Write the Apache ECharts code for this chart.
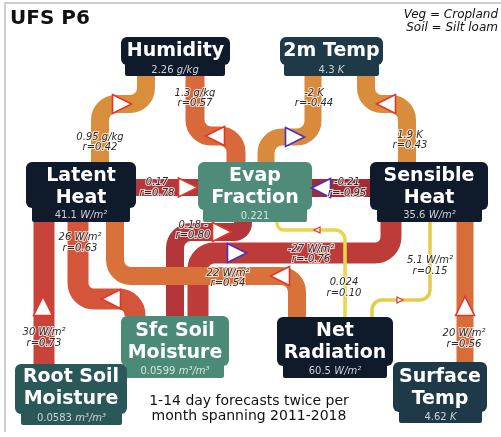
<!DOCTYPE html>
<html>
<head>
<meta charset="utf-8">
<script src="https://cdn.jsdelivr.net/npm/echarts@6/dist/echarts.min.js"></script>
<style>
  html, body { margin: 0; padding: 0; background: #fff; }
  #chart { width: 501px; height: 437px; }
</style>
</head>
<body>
<div id="chart"></div>
<script>
// ---- data ----
const nodeNames = ['Humidity', '2m Temp', 'Latent\nHeat', 'Evap\nFraction', 'Sensible\nHeat',
                   'Sfc Soil\nMoisture', 'Root Soil\nMoisture', 'Net\nRadiation', 'Surface\nTemp'];
const nodeNumbers = ['2.26', '4.3', '41.1', '0.221', '35.6', '0.0599', '0.0583', '60.5', '4.62'];
const nodeUnits = ['g/kg', 'K', 'W/m²', '', 'W/m²', 'm³/m³', 'm³/m³', 'W/m²', 'K'];

// links between nodes (indices into nodeNames)
const linkFrom = [0, 0, 1, 1, 2, 4, 2, 2, 2, 5, 5, 3, 4, 8];
const linkTo   = [2, 3, 3, 4, 3, 3, 6, 5, 7, 3, 4, 7, 7, 4];
const linkValue = ['0.95 g/kg', '1.3 g/kg', '-2 K', '1.9 K', '0.17', '-0.21', '30 W/m²', '26 W/m²',
                   '22 W/m²', '0.18 -', '-27 W/m²', '0.024', '5.1 W/m²', '20 W/m²'];
const linkR = [0.42, 0.57, -0.44, 0.43, 0.78, -0.95, 0.73, 0.63, 0.54, 0.80, -0.76, 0.10, 0.15, 0.56];

// ---- layout (diagram positions, in axis units = pixels) ----
// [x0, y0, x1, y1, lowX0, lowX1, lowY1]
const nodeBox = [
  [121, 37, 230, 65, 125, 225, 76],
  [280, 37, 383, 65, 284, 379, 76],
  [26, 162, 136, 208, 32, 130, 222],
  [198, 162, 312, 210, 203, 307, 222],
  [370, 162, 488, 210, 377, 482, 222],
  [121, 316, 229, 366, 126, 224, 378],
  [15, 364, 127, 414, 21, 122, 425],
  [277, 317, 393, 366, 283, 387, 378],
  [393, 362, 487, 412, 399, 482, 423]
];
const nodeTitleY = [51, 51, 187, 187, 187, 342.5, 388.5, 342.5, 388.5];
const nodeValueY = [70.5, 70.5, 215, 216, 215.5, 371.5, 418.5, 371.5, 417.5];
const nodeColor = ['#0f1b2b', '#1e3a49', '#0f1a2a', '#4f8b79', '#0f1a2a',
                   '#4c8a78', '#2a5859', '#0f1a2a', '#1e3a49'];

const pipePath = [
  [[146, 76], [146, 104], [100, 104], [100, 162]],
  [[195, 76], [195, 136], [236, 136], [236, 162]],
  [[313, 76], [313, 137], [266, 137], [266, 162]],
  [[366, 76], [366, 104], [407, 104], [407, 162]],
  [[136, 187.5], [198, 187.5]],
  [[370, 188], [312, 188]],
  [[44, 222], [44, 364]],
  [[78, 222], [78, 299], [135, 299], [135, 316]],
  [[115, 222], [115, 276], [297, 276], [297, 317]],
  [[175, 316], [175, 232], [243, 232], [243, 222]],
  [[198, 316], [198, 253], [391, 253], [391, 222]],
  [[277, 222], [277, 230], [345, 230], [345, 317]],
  [[430, 222], [430, 300], [372, 300], [372, 317]],
  [[465, 362], [465, 222]]
];
const pipeWidth = [18, 19, 17, 18, 17, 18, 21, 21, 18, 18, 21, 3.5, 3.5, 17];
const arrowAt = [
  [122, 104, 'right'], [215, 136, 'left'], [295, 137, 'right'], [386, 104, 'left'],
  [188, 187.5, 'right'], [321, 188, 'left'], [43, 306, 'up'], [111, 299, 'left'],
  [280, 276, 'left'], [222, 232, 'right'], [237, 253, 'right'], [317, 230, 'left'],
  [400, 300, 'right'], [465, 306, 'up']
];
const labelAt = [
  [100, 142.5], [195, 98.5], [314, 98.5], [410, 140.5], [157, 188], [347, 188], [44, 338],
  [80, 243], [228, 278.5], [193, 230.5], [311, 254.5], [344, 288], [430, 266], [464, 339]
];

// colour ramp for |r|
const rampStops = [[0.10, '#e8d64c'], [0.43, '#d98c3c'], [0.55, '#d8703a'], [0.63, '#d5553a'],
                   [0.73, '#c8433a'], [0.78, '#b5373a'], [0.95, '#a02c36']];
function hex2rgb(h) { return [1, 3, 5].map(k => parseInt(h.slice(k, k + 2), 16)); }
function pipeColor(r) {
  const a = Math.abs(r);
  if (a <= rampStops[0][0]) return rampStops[0][1];
  for (let k = 1; k < rampStops.length; k++) {
    if (a <= rampStops[k][0]) {
      const t = (a - rampStops[k - 1][0]) / (rampStops[k][0] - rampStops[k - 1][0]);
      const c0 = hex2rgb(rampStops[k - 1][1]), c1 = hex2rgb(rampStops[k][1]);
      return 'rgb(' + c0.map((v, j) => Math.round(v + (c1[j] - v) * t)).join(',') + ')';
    }
  }
  return rampStops[rampStops.length - 1][1];
}

function roundPath(pts, rad) {
  const n = pts.length;
  let d = 'M' + pts[0][0] + ' ' + pts[0][1];
  for (let i = 1; i < n - 1; i++) {
    const a = pts[i - 1], c = pts[i], b = pts[i + 1];
    const d1 = Math.hypot(c[0] - a[0], c[1] - a[1]);
    const d2 = Math.hypot(b[0] - c[0], b[1] - c[1]);
    const lim1 = i - 1 === 0 ? d1 - 1 : d1 / 2;
    const lim2 = i + 1 === n - 1 ? d2 - 1 : d2 / 2;
    const r = Math.max(0, Math.min(rad, lim1, lim2));
    const s = [c[0] + (a[0] - c[0]) * r / d1, c[1] + (a[1] - c[1]) * r / d1];
    const e = [c[0] + (b[0] - c[0]) * r / d2, c[1] + (b[1] - c[1]) * r / d2];
    const k = 0.5523;
    const c1 = [s[0] + (c[0] - s[0]) * k, s[1] + (c[1] - s[1]) * k];
    const c2 = [e[0] + (c[0] - e[0]) * k, e[1] + (c[1] - e[1]) * k];
    d += ' L' + s.join(' ') + ' C' + c1.join(' ') + ' ' + c2.join(' ') + ' ' + e.join(' ');
  }
  d += ' L' + pts[n - 1][0] + ' ' + pts[n - 1][1];
  return d;
}

function tri(cx, cy, dir, L, B) {
  const h = L / 2, w = B / 2;
  if (dir === 'right') return [[cx - h, cy - w], [cx + h, cy], [cx - h, cy + w]];
  if (dir === 'left') return [[cx + h, cy - w], [cx - h, cy], [cx + h, cy + w]];
  if (dir === 'up') return [[cx - w, cy + h], [cx, cy - h], [cx + w, cy + h]];
  return [[cx - w, cy - h], [cx, cy + h], [cx + w, cy - h]];
}

const FONT = '"DejaVu Sans", sans-serif';
// weakest links drawn last so they sit on top
const pipeOrder = linkR.map((r, i) => [i]).sort((a, b) => Math.abs(linkR[b[0]]) - Math.abs(linkR[a[0]]));

const chart = echarts.init(document.getElementById('chart'));
chart.setOption({
  animation: false,
  backgroundColor: '#fff',
  grid: { left: 0, right: 0, top: 0, bottom: 0 },
  xAxis: { type: 'value', min: 0, max: 501, show: false },
  yAxis: { type: 'value', min: 0, max: 437, inverse: true, show: false },
  graphic: [
    { type: 'polyline', shape: { points: [[5, 432], [5, 3], [501, 3]] },
      style: { stroke: '#cfcfcf', lineWidth: 2, fill: null } },
    { type: 'text', x: 10, y: 19,
      style: { text: 'UFS P6', fontSize: 20, fontWeight: 'bold', fontFamily: FONT, fill: '#111',
               align: 'left', verticalAlign: 'middle' } },
    { type: 'text', x: 498, y: 21.5,
      style: { text: 'Veg = Cropland\nSoil = Silt loam', fontSize: 12, fontStyle: 'italic', fontFamily: FONT,
               fill: '#111', align: 'right', verticalAlign: 'middle', lineHeight: 13.5 } },
    { type: 'text', x: 249, y: 409,
      style: { text: '1-14 day forecasts twice per\nmonth spanning 2011-2018', fontSize: 14, fontFamily: FONT,
               fill: '#111', align: 'center', verticalAlign: 'middle', lineHeight: 15.5 } }
  ],
  series: [
    {
      type: 'custom', name: 'pipes', z: 1, data: pipeOrder,
      renderItem: function (params, api) {
        const i = api.value(0);
        const pts = pipePath[i].map(p => api.coord(p));
        const thin = pipeWidth[i] < 6;
        return {
          type: 'path',
          shape: { pathData: roundPath(pts, thin ? 10 : 16) },
          style: { fill: null, stroke: pipeColor(linkR[i]), lineWidth: pipeWidth[i], lineCap: 'butt', lineJoin: 'round' }
        };
      }
    },
    {
      type: 'custom', name: 'nodes', z: 2, data: nodeNames.map((n, i) => [i]),
      renderItem: function (params, api) {
        const i = api.value(0);
        const b = nodeBox[i];
        const p0 = api.coord([b[0], b[1]]), p1 = api.coord([b[2], b[3]]);
        const q0 = api.coord([b[4], b[3] - 4]), q1 = api.coord([b[5], b[6]]);
        const cx = (p0[0] + p1[0]) / 2;
        const vc = (q0[0] + q1[0]) / 2;
        const valueText = nodeUnits[i] ? '{n|' + nodeNumbers[i] + '} {u|' + nodeUnits[i] + '}' : '{n|' + nodeNumbers[i] + '}';
        const vcol = nodeColor[i] === '#4f8b79' || nodeColor[i] === '#4c8a78' ? '#d6e6de' : '#cfd2d6';
        return {
          type: 'group',
          children: [
            { type: 'rect', shape: { x: q0[0], y: q0[1], width: q1[0] - q0[0], height: q1[1] - q0[1], r: [0, 0, 2, 2] },
              style: { fill: nodeColor[i] } },
            { type: 'rect', shape: { x: p0[0], y: p0[1], width: p1[0] - p0[0], height: p1[1] - p0[1], r: 6 },
              style: { fill: nodeColor[i] } },
            { type: 'text', x: cx, y: api.coord([0, nodeTitleY[i]])[1],
              style: { text: nodeNames[i], fill: '#fff', fontSize: 19, fontWeight: 'bold', fontFamily: FONT,
                       align: 'center', verticalAlign: 'middle', lineHeight: 22 } },
            { type: 'text', x: vc, y: api.coord([0, nodeValueY[i]])[1],
              style: { text: valueText, align: 'center', verticalAlign: 'middle',
                       rich: {
                         n: { fill: vcol, fontSize: 10, fontFamily: FONT },
                         u: { fill: vcol, fontSize: 10, fontFamily: FONT, fontStyle: 'italic' }
                       } } }
          ]
        };
      }
    },
    {
      type: 'custom', name: 'arrows', z: 3, data: linkR.map((r, i) => [i]),
      renderItem: function (params, api) {
        const i = api.value(0);
        const a = arrowAt[i];
        const c = api.coord([a[0], a[1]]);
        const thin = pipeWidth[i] < 6;
        const pts = thin ? tri(c[0], c[1], a[2], 6, 6) : tri(c[0], c[1], a[2], 19, 19);
        return {
          type: 'polygon',
          shape: { points: pts },
          style: { fill: '#fff', stroke: linkR[i] < 0 ? '#4a2fbf' : '#e5352a', lineWidth: thin ? 1.2 : 1.6 }
        };
      }
    },
    {
      type: 'custom', name: 'labels', z: 4, data: linkR.map((r, i) => [i]),
      renderItem: function (params, api) {
        const i = api.value(0);
        const c = api.coord(labelAt[i]);
        return {
          type: 'text', x: c[0], y: c[1],
          style: { text: linkValue[i] + '\nr=' + linkR[i].toFixed(2), fill: '#2b2b2b', fontSize: 10,
                   fontStyle: 'italic', fontFamily: FONT, align: 'center', verticalAlign: 'middle', lineHeight: 10.5,
                   stroke: 'rgba(255,255,255,0.75)', lineWidth: 2 }
        };
      }
    }
  ]
});
</script>
</body>
</html>
